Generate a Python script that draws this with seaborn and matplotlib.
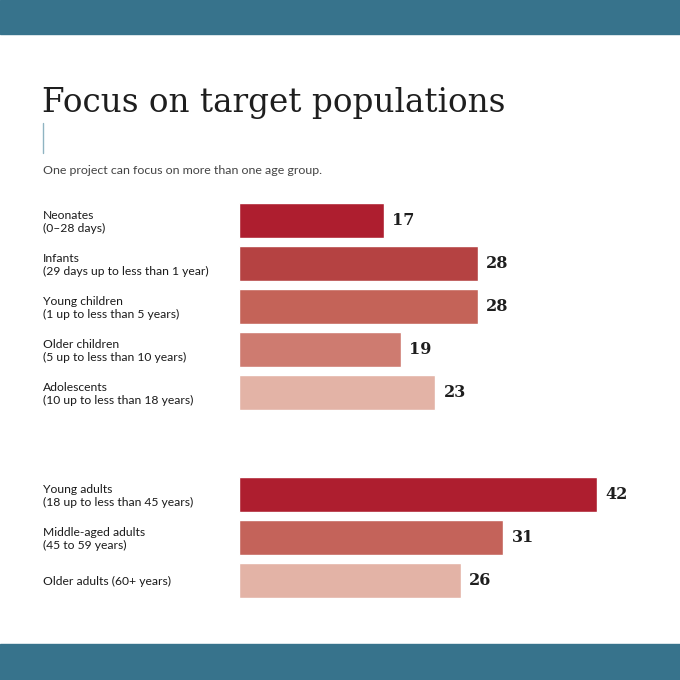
import matplotlib
matplotlib.use("Agg")
import matplotlib.pyplot as plt
import seaborn as sns
import pandas as pd
from matplotlib.patches import Rectangle
from matplotlib.lines import Line2D
from matplotlib import font_manager as fm

sns.set_theme(style="white")
plt.rcParams['font.family'] = ['Lato', 'DejaVu Sans']

# Data
child_labels = ["Neonates\n(0–28 days)",
                "Infants\n(29 days up to less than 1 year)",
                "Young children\n(1 up to less than 5 years)",
                "Older children\n(5 up to less than 10 years)",
                "Adolescents\n(10 up to less than 18 years)"]
child_values = [17, 28, 28, 19, 23]
child_colors = ["#AE1E2F", "#B54242", "#C46358", "#CE7B70", "#E3B3A6"]

adult_labels = ["Young adults\n(18 up to less than 45 years)",
                "Middle-aged adults\n(45 to 59 years)",
                "Older adults (60+ years)"]
adult_values = [42, 31, 26]
adult_colors = ["#AE1E2F", "#C4635A", "#E3B3A6"]

title = "Focus on target populations"
subtitle = "One project can focus on more than one age group."

names = {f.name for f in fm.fontManager.ttflist}
title_family = ['DejaVu Serif Condensed'] if 'DejaVu Serif Condensed' in names else ['DejaVu Serif']
title_size = 27.5 if 'DejaVu Serif Condensed' in names else 23.5

W = H = 680
fig = plt.figure(figsize=(6.8, 6.8), dpi=100)
fig.patch.set_facecolor("white")

def fx(px): return px / W
def fy(py): return 1 - py / H

# bands
fig.patches.append(Rectangle((0, fy(34)), 1, 34 / H, transform=fig.transFigure,
                             color="#37738C", zorder=0))
fig.patches.append(Rectangle((0, 0), 1, 36 / H, transform=fig.transFigure,
                             color="#37738C", zorder=0))

fig.text(fx(42), fy(112), title, fontsize=title_size, family=title_family,
         color="#1e1e1e", ha="left", va="baseline")
fig.lines.append(Line2D([fx(43), fx(43)], [fy(123), fy(153)], transform=fig.transFigure,
                        color="#8fb4c2", lw=1))
fig.text(fx(43), fy(174), subtitle, fontsize=8.9, color="#444444", ha="left", va="baseline")

px_per_unit = 8.53
xmax = 50
ax_w = xmax * px_per_unit

def make_axes(top_px, n):
    h = n * 43
    return fig.add_axes([fx(239), fy(top_px + h), ax_w / W, h / H])

ax1 = make_axes(199, len(child_values))
ax2 = make_axes(473, len(adult_values))

for ax, labels, values, colors in [(ax1, child_labels, child_values, child_colors),
                                    (ax2, adult_labels, adult_values, adult_colors)]:
    df = pd.DataFrame({"label": labels, "value": values})
    sns.barplot(data=df, x="value", y="label", hue="label", palette=colors,
                legend=False, width=35 / 43, ax=ax, saturation=1)
    ax.set_xlim(0, xmax)
    ax.set_ylim(len(values) - 0.5, -0.5)
    ax.set_xlabel("")
    ax.set_ylabel("")
    ax.set_xticks([])
    for s in ax.spines.values():
        s.set_visible(False)
    ax.set_facecolor("none")
    pad_pt = (239 - 43) * 72 / 100
    ax.tick_params(axis="y", length=0, pad=pad_pt)
    for t in ax.get_yticklabels():
        t.set_ha("left")
        t.set_fontsize(8.7)
        t.set_color("#1a1a1a")
        t.set_linespacing(1.2)
    for c in ax.containers:
        ax.bar_label(c, padding=6, fontsize=11.5, fontweight="bold",
                     family=['DejaVu Serif'], color="#1e1e1e")

fig.savefig("out.png", dpi=100, facecolor="white")
